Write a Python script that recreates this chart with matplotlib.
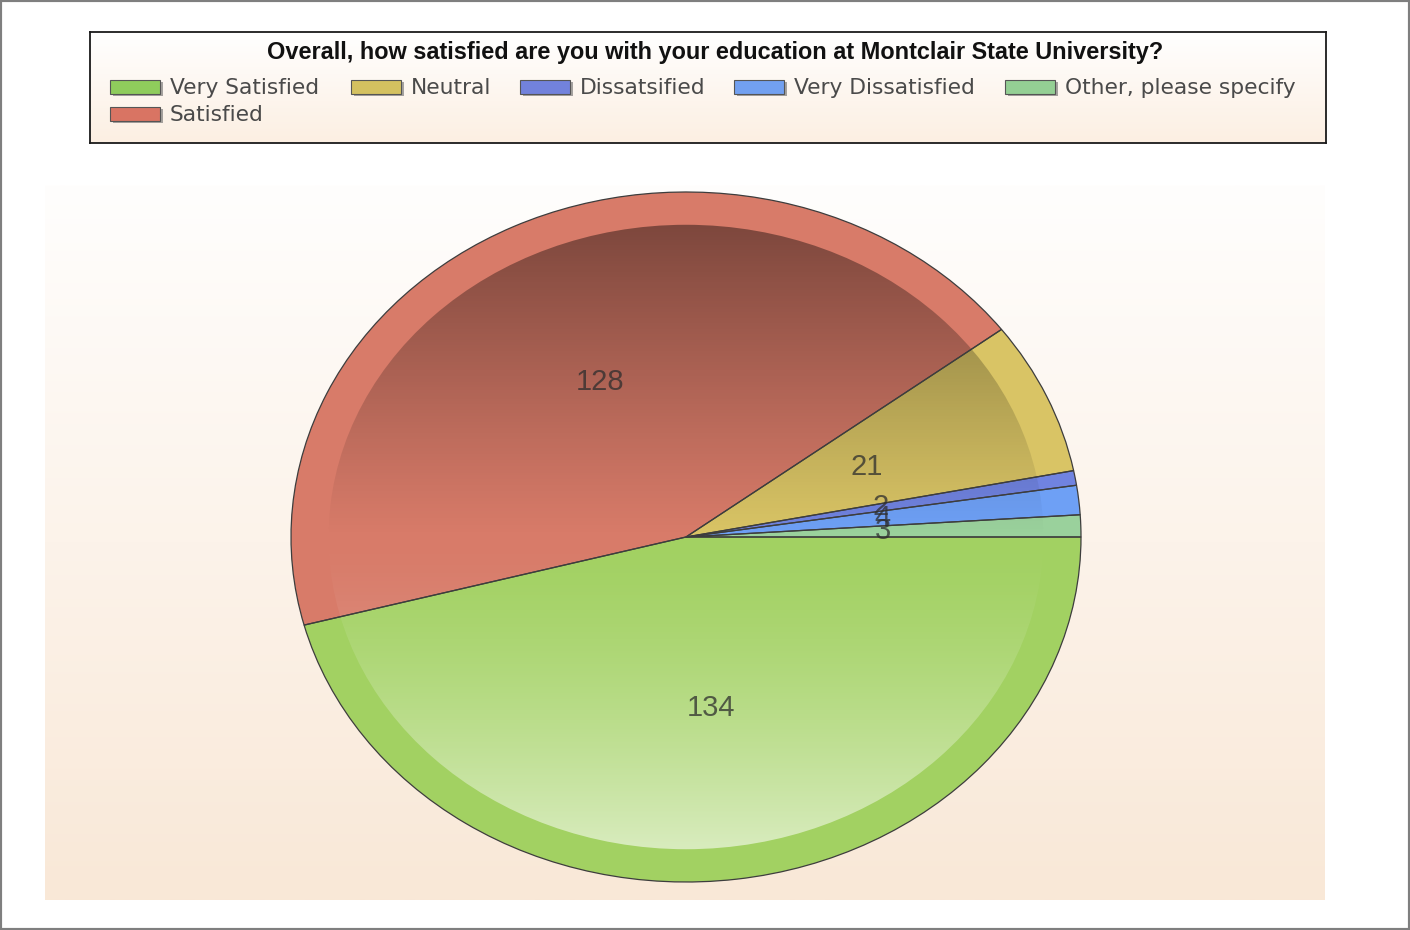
import matplotlib
matplotlib.use("Agg")
import matplotlib.pyplot as plt
from matplotlib.patches import Rectangle, Circle
import numpy as np

# ---- data ----
categories = ["Very Satisfied", "Satisfied", "Neutral", "Dissatsified",
              "Very Dissatisfied", "Other, please specify"]
counts = [134, 128, 21, 2, 4, 3]
title = "Overall, how satisfied are you with your education at Montclair State University?"

ring_colors = ["#a2d162", "#d87b69", "#d9c465", "#7083e0", "#6ea0f5", "#9ad19c"]
swatch_colors = ["#8fcc5c", "#d97463", "#d4c160", "#7282dc", "#72a0f0", "#94cf94"]

W, H = 1410, 930
LABEL_INK = "#2e2e2e"


def fx(px):
    return px / W


def fy(py):
    return 1 - py / H


def vgrad(top, bottom, n=256):
    t = np.linspace(0, 1, n)[:, None, None]
    a = np.array(matplotlib.colors.to_rgb(top))[None, None, :]
    b = np.array(matplotlib.colors.to_rgb(bottom))[None, None, :]
    return a * (1 - t) + b * t


def fit(txt, target_px, renderer):
    w = txt.get_window_extent(renderer).width
    txt.set_fontsize(txt.get_fontsize() * target_px / w)


fig = plt.figure(figsize=(W / 100, H / 100), dpi=100)
fig.patch.set_facecolor("white")
renderer = fig.canvas.get_renderer()

# ---- plot-area background ----
ax_bg = fig.add_axes([fx(45), fy(900), (1325 - 45) / W, (900 - 185) / H])
ax_bg.imshow(vgrad("#fffefd", "#f9e8d7"), aspect="auto", extent=(0, 1, 0, 1))
ax_bg.axis("off")

# ---- legend box ----
lx0, ly0, lx1, ly1 = 90, 32, 1326, 143
ax_leg = fig.add_axes([fx(lx0), fy(ly1), (lx1 - lx0) / W, (ly1 - ly0) / H])
ax_leg.imshow(vgrad("#ffffff", "#fcefe2"), aspect="auto",
              extent=(0, lx1 - lx0, ly1 - ly0, 0))
ax_leg.set_xlim(0, lx1 - lx0)
ax_leg.set_ylim(ly1 - ly0, 0)
ax_leg.set_xticks([]); ax_leg.set_yticks([])
for s in ax_leg.spines.values():
    s.set_color("#1a1a1a"); s.set_linewidth(1.3)

t = ax_leg.text((268 + 1162) / 2 - lx0, 53 - ly0, title, ha="center", va="center",
                fontsize=13, fontweight="bold", family="Liberation Sans", color="#111111")
fit(t, 894, renderer)

# legend slots: (swatch x, row y) in screen px
slots = [(110, 88), (110, 115), (351, 88), (520, 88), (734, 88), (1005, 88)]
for (sx, sy), name, col in zip(slots, categories, swatch_colors):
    x, y = sx - lx0, sy - ly0
    ax_leg.add_patch(Rectangle((x + 3, y - 6), 50, 14, facecolor="#6a6a6a",
                               alpha=0.6, edgecolor="none", zorder=2))
    ax_leg.add_patch(Rectangle((x, y - 8), 50, 14, facecolor=col,
                               edgecolor="#555555", linewidth=0.8, zorder=3))
    lt = ax_leg.text(x + 60, y, name, ha="left", va="center", fontsize=15.5,
                     family="DejaVu Sans", color="#4a4a4a", zorder=3)
    if name == "Other, please specify":
        fit(lt, 1293 - 1063, renderer)
        legend_fs = lt.get_fontsize()
for txt in ax_leg.texts[1:]:
    txt.set_fontsize(legend_fs)

# ---- pie ----
cx, cy, rx, ry = 686, 537, 395, 345
ax_pie = fig.add_axes([fx(cx - rx), fy(cy + ry), 2 * rx / W, 2 * ry / H])
total = sum(counts)
wedges, _, autotexts = ax_pie.pie(
    counts, colors=ring_colors, startangle=0, counterclock=False, radius=1,
    wedgeprops=dict(edgecolor="none"),
    autopct=lambda p: f"{round(p * total / 100)}", pctdistance=0.5,
    textprops=dict(fontsize=21, family="Liberation Sans", color=LABEL_INK, alpha=0.75))
ax_pie.set_aspect("auto")
ax_pie.set_xlim(-1, 1); ax_pie.set_ylim(-1, 1)
ax_pie.axis("off")

# shading of the inner disc: dark at top, light at bottom
n = 400
yy = np.linspace(1, -1, n)
rgba = np.zeros((n, 1, 4))
up = yy > 0
rgba[up, 0, :3] = 0.0
rgba[up, 0, 3] = 0.47 * yy[up] ** 1.1
rgba[~up, 0, :3] = 1.0
rgba[~up, 0, 3] = 0.68 * np.abs(yy[~up]) ** 1.5
shade = ax_pie.imshow(rgba, aspect="auto", extent=(-1, 1, -1, 1), zorder=2)
shade.set_clip_path(Circle((0, 0), 0.905, transform=ax_pie.transData))

# slice outlines on top
ax_pie.pie(counts, startangle=0, counterclock=False, radius=1,
           wedgeprops=dict(fill=False, edgecolor="#3d3d3d", linewidth=0.9, zorder=3))
ax_pie.set_aspect("auto")
ax_pie.set_xlim(-1, 1); ax_pie.set_ylim(-1, 1)
for at in autotexts:
    at.set_zorder(5)

# outer frame of the image
fig.patches.append(Rectangle((0, 0), 1, 1, transform=fig.transFigure, fill=False,
                             edgecolor="#7f7f7f", linewidth=3))

fig.savefig("out.png", dpi=100)
